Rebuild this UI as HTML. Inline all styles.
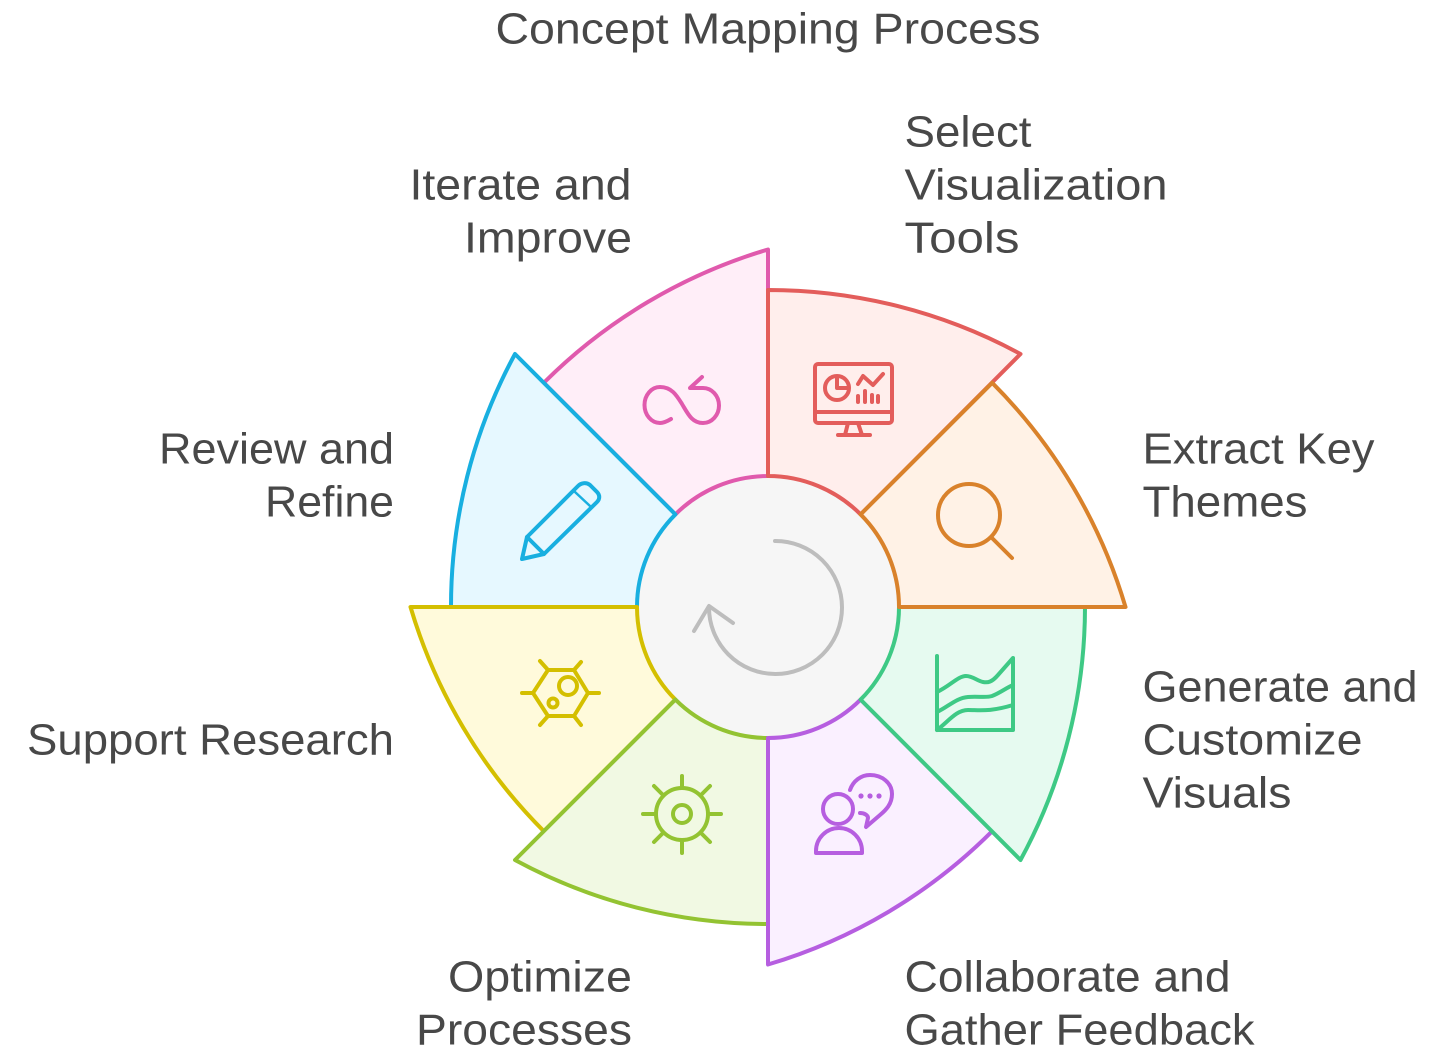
<!DOCTYPE html>
<html>
<head>
<meta charset="utf-8">
<title>Concept Mapping Process</title>
<style>
html,body{margin:0;padding:0;background:#fff;width:1431px;height:1059px;overflow:hidden}
svg{display:block}
text{font-family:"Liberation Sans",sans-serif;font-size:44px;fill:#484848}
.i{fill:none;stroke-width:4;stroke-linecap:round;stroke-linejoin:round}
.s{stroke-width:4;stroke-linejoin:round}
</style>
</head>
<body>
<svg width="1431" height="1059" viewBox="0 0 1431 1059" xmlns="http://www.w3.org/2000/svg">
<circle cx="768" cy="607" r="131" fill="#f6f6f6"/>

<!-- pink -->
<path class="s" fill="#ffeef8" stroke="#e05aad" d="M675.4 514.4 L543.8 382.8 A530 530 0 0 1 768 249.5 V476 A131 131 0 0 0 675.4 514.4Z"/>
<!-- blue -->
<path class="s" fill="#e6f8ff" stroke="#18afe0" d="M637 607 H451 A530 530 0 0 1 515 354 L675.4 514.4 A131 131 0 0 0 637 607Z"/>
<!-- yellow -->
<path class="s" fill="#fffadb" stroke="#d4bf00" d="M675.4 699.6 L543.8 831.2 A530 530 0 0 1 410.5 607 H637 A131 131 0 0 0 675.4 699.6Z"/>
<!-- lime -->
<path class="s" fill="#f1f9e3" stroke="#93c332" d="M768 738 V924 A530 530 0 0 1 515 860 L675.4 699.6 A131 131 0 0 0 768 738Z"/>
<!-- purple -->
<path class="s" fill="#faf0ff" stroke="#b65ee0" d="M860.6 699.6 L992.2 831.2 A530 530 0 0 1 768 964.5 V738 A131 131 0 0 0 860.6 699.6Z"/>
<!-- green -->
<path class="s" fill="#e6faf0" stroke="#3ec985" d="M899 607 H1085 A530 530 0 0 1 1020.5 860 L860.6 699.6 A131 131 0 0 0 899 607Z"/>
<!-- red -->
<path class="s" fill="#ffeeec" stroke="#e35d5b" d="M768 476 V290 A530 530 0 0 1 1020.5 354 L860.6 514.4 A131 131 0 0 0 768 476Z"/>
<!-- orange -->
<path class="s" fill="#fff2e6" stroke="#d9822b" d="M860.6 514.4 L992.2 382.8 A530 530 0 0 1 1125.5 607 H899 A131 131 0 0 0 860.6 514.4Z"/>

<!-- center arrow -->
<g class="i" stroke="#bdbdbd">
<path d="M775 541 A66.5 66.5 0 1 1 709 607"/>
<path d="M694 631 L709 606 L733 623"/>
</g>

<!-- monitor -->
<g class="i" stroke="#e35d5b">
<rect x="815" y="364" width="77" height="59" rx="3"/>
<path d="M815 412 H892 M848 423 L845 435 M858 423 L862 435 M838 435 H870"/>
<circle cx="837" cy="388" r="12"/>
<path d="M837 377 V388 H848"/>
<path d="M858 384 L863 376 L873 385 L883 374"/>
<path d="M858 396 V402 M865 391 V402 M872 395 V402 M878 396 V402"/>
</g>
<!-- magnifier -->
<g class="i" stroke="#d9822b">
<circle cx="969" cy="515" r="31"/>
<path d="M992 538 L1012 558"/>
</g>
<!-- area chart -->
<g class="i" stroke="#3ec985">
<path d="M937 656 V730 H1013 V658 L998 675 C992 682 988 683 983 682 C977 681 973 676 966 676 C958 676 950 686 937 692"/>
<path d="M937 712 C948 707 956 698 968 697 C978 696 986 698 992 696 C1000 693 1006 688 1013 685"/>
<path d="M937 730 C948 722 956 710 968 710 C980 710 990 712 1013 705"/>
</g>
<!-- person with bubble -->
<g class="i" stroke="#b65ee0">
<circle cx="838" cy="809" r="15"/>
<path d="M816 853 V851 A23 23 0 0 1 862 851 V853 Z"/>
<path d="M850 790 C853 781 861 775 870 775 C882 775 892 783 892 794 C892 804 886 810 880 815 L866 827 L868 818 C868 815 864 813 860 813"/>
</g>
<g fill="#b65ee0">
<circle cx="861" cy="796" r="2.6"/>
<circle cx="870" cy="796" r="2.6"/>
<circle cx="879" cy="796" r="2.6"/>
</g>
<!-- gear lime -->
<g class="i" stroke="#93c332">
<circle cx="682" cy="814" r="26"/>
<circle cx="682" cy="814" r="9"/>
<path d="M682 788 V776 M682 840 V853 M708 814 H721 M656 814 H643 M663 795 L654 786 M701 795 L710 786 M663 833 L654 842 M701 833 L710 842"/>
</g>
<!-- hexagon -->
<g class="i" stroke="#d4bf00">
<path d="M548 670 H574 L588 693 L574 716 H548 L533 693 Z"/>
<path d="M522 693 H533 M588 693 H599 M548 670 L540 661 M574 670 L581 662 M548 716 L540 725 M574 716 L581 725"/>
<circle cx="568" cy="686" r="9"/>
<circle cx="553" cy="703" r="4.5"/>
</g>
<!-- pencil -->
<g class="i" stroke="#18afe0">
<path d="M522 559 L527 537 L578 486 C581 483 586 482 590 485 L597 492 C600 495 600 499 597 502 L544 554 Z"/>
<path d="M527 537 L544 554"/>
<path d="M575 492 L590 506" style="stroke-width:2.5"/>
</g>
<!-- loop -->
<g class="i" stroke="#e05aad">
<path d="M671 419 C666 422 663 423 660 423 A15.5 18 0 0 1 660 387 C672 387 677 396 682 404 C688 414 692 423 703 423 A16 17.5 0 0 0 703 388 H690 L702 377"/>
</g>

<!-- labels -->
<text x="495.5" y="43.5" textLength="545" lengthAdjust="spacingAndGlyphs">Concept Mapping Process</text>
<text x="904.5" y="146.5" textLength="127" lengthAdjust="spacingAndGlyphs">Select</text>
<text x="904.5" y="199.5" textLength="263" lengthAdjust="spacingAndGlyphs">Visualization</text>
<text x="904.5" y="252.5" textLength="115" lengthAdjust="spacingAndGlyphs">Tools</text>
<text x="409.5" y="199.5" textLength="222" lengthAdjust="spacingAndGlyphs">Iterate and</text>
<text x="464" y="252.5" textLength="168" lengthAdjust="spacingAndGlyphs">Improve</text>
<text x="1142.5" y="463.5" textLength="232" lengthAdjust="spacingAndGlyphs">Extract Key</text>
<text x="1142.5" y="516.5" textLength="165" lengthAdjust="spacingAndGlyphs">Themes</text>
<text x="159" y="463.5" textLength="235" lengthAdjust="spacingAndGlyphs">Review and</text>
<text x="265" y="516.5" textLength="129" lengthAdjust="spacingAndGlyphs">Refine</text>
<text x="1142.5" y="701.5" textLength="275" lengthAdjust="spacingAndGlyphs">Generate and</text>
<text x="1142.5" y="754.5" textLength="220" lengthAdjust="spacingAndGlyphs">Customize</text>
<text x="1142.5" y="807.5" textLength="149" lengthAdjust="spacingAndGlyphs">Visuals</text>
<text x="27" y="754.5" textLength="367" lengthAdjust="spacingAndGlyphs">Support Research</text>
<text x="904.5" y="991.5" textLength="326" lengthAdjust="spacingAndGlyphs">Collaborate and</text>
<text x="904.5" y="1044.5" textLength="350" lengthAdjust="spacingAndGlyphs">Gather Feedback</text>
<text x="448" y="991.5" textLength="184" lengthAdjust="spacingAndGlyphs">Optimize</text>
<text x="416" y="1044.5" textLength="216" lengthAdjust="spacingAndGlyphs">Processes</text>
</svg>
</body>
</html>
